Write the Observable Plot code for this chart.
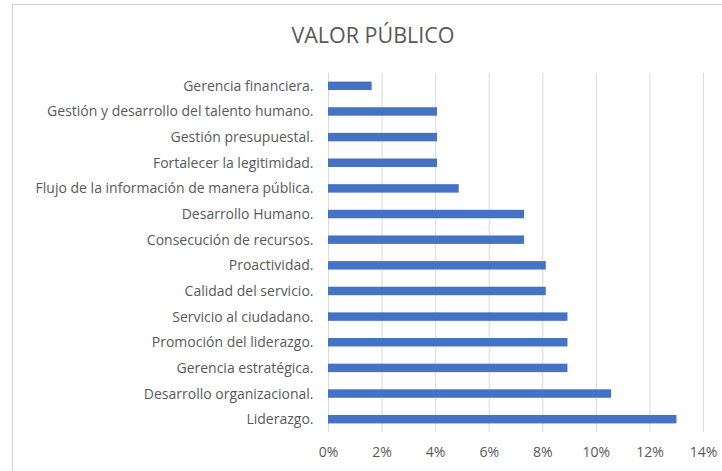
<!DOCTYPE html>
<html>
<head>
<meta charset="utf-8">
<script src="https://cdn.jsdelivr.net/npm/d3@7"></script>
<script src="https://cdn.jsdelivr.net/npm/@observablehq/plot@0.6"></script>
<style>
  html, body { margin: 0; padding: 0; background: #fff; }
  #wrap { position: relative; width: 722px; height: 471px; overflow: hidden; font-family: "Open Sans", sans-serif; }
  #frame { position: absolute; left: 12px; top: 4px; right: -2px; bottom: -2px; border-left: 1px solid #d0d0d0; border-top: 1px solid #d0d0d0; }
  #title { position: absolute; left: 0; top: 22px; width: 746px; text-align: center; font-size: 21.5px; line-height: 26px; color: #595959; letter-spacing: 0; }
  #chart { position: absolute; left: 0; top: 60px; }
</style>
</head>
<body>
<div id="wrap">
  <div id="frame"></div>
  <div id="title">VALOR PÚBLICO</div>
  <div id="chart"></div>
</div>
<script>
const categories = [
  "Gerencia financiera.",
  "Gestión y desarrollo del talento humano.",
  "Gestión presupuestal.",
  "Fortalecer la legitimidad.",
  "Flujo de la información de manera pública.",
  "Desarrollo Humano.",
  "Consecución de recursos.",
  "Proactividad.",
  "Calidad del servicio.",
  "Servicio al ciudadano.",
  "Promoción del liderazgo.",
  "Gerencia estratégica.",
  "Desarrollo organizacional.",
  "Liderazgo."
];
const values = [0.0163, 0.0407, 0.0407, 0.0407, 0.0488, 0.0732, 0.0732, 0.0813, 0.0813, 0.0894, 0.0894, 0.0894, 0.1057, 0.1301];
const xTicks = [0, 0.02, 0.04, 0.06, 0.08, 0.10, 0.12, 0.14];

const data = categories.map((c, i) => ({category: c, value: values[i]}));

const plot = Plot.plot({
  width: 722,
  height: 411,
  marginTop: 13,
  marginBottom: 39,
  marginLeft: 328,
  marginRight: 19,
  style: {fontFamily: "Open Sans, sans-serif", fontSize: "14px", color: "#595959", background: "transparent"},
  x: {domain: [0, 0.14], ticks: xTicks, tickFormat: d3.format(".0%"), label: null},
  y: {domain: categories, paddingInner: 0.67, paddingOuter: 0.335, round: false, label: null},
  marks: [
    Plot.gridX(xTicks, {stroke: "#d9d9d9", strokeOpacity: 1, strokeWidth: 1}),
    Plot.axisX({ticks: xTicks, tickSize: 0, tickPadding: 15, tickFormat: d3.format(".0%"), label: null, fill: "#595959"}),
    Plot.axisY({tickSize: 0, tickPadding: 15, label: null, fill: "#595959"}),
    Plot.barX(data, {x: "value", y: "category", fill: "#4472C4"})
  ]
});
document.getElementById("chart").appendChild(plot);
</script>
</body>
</html>
